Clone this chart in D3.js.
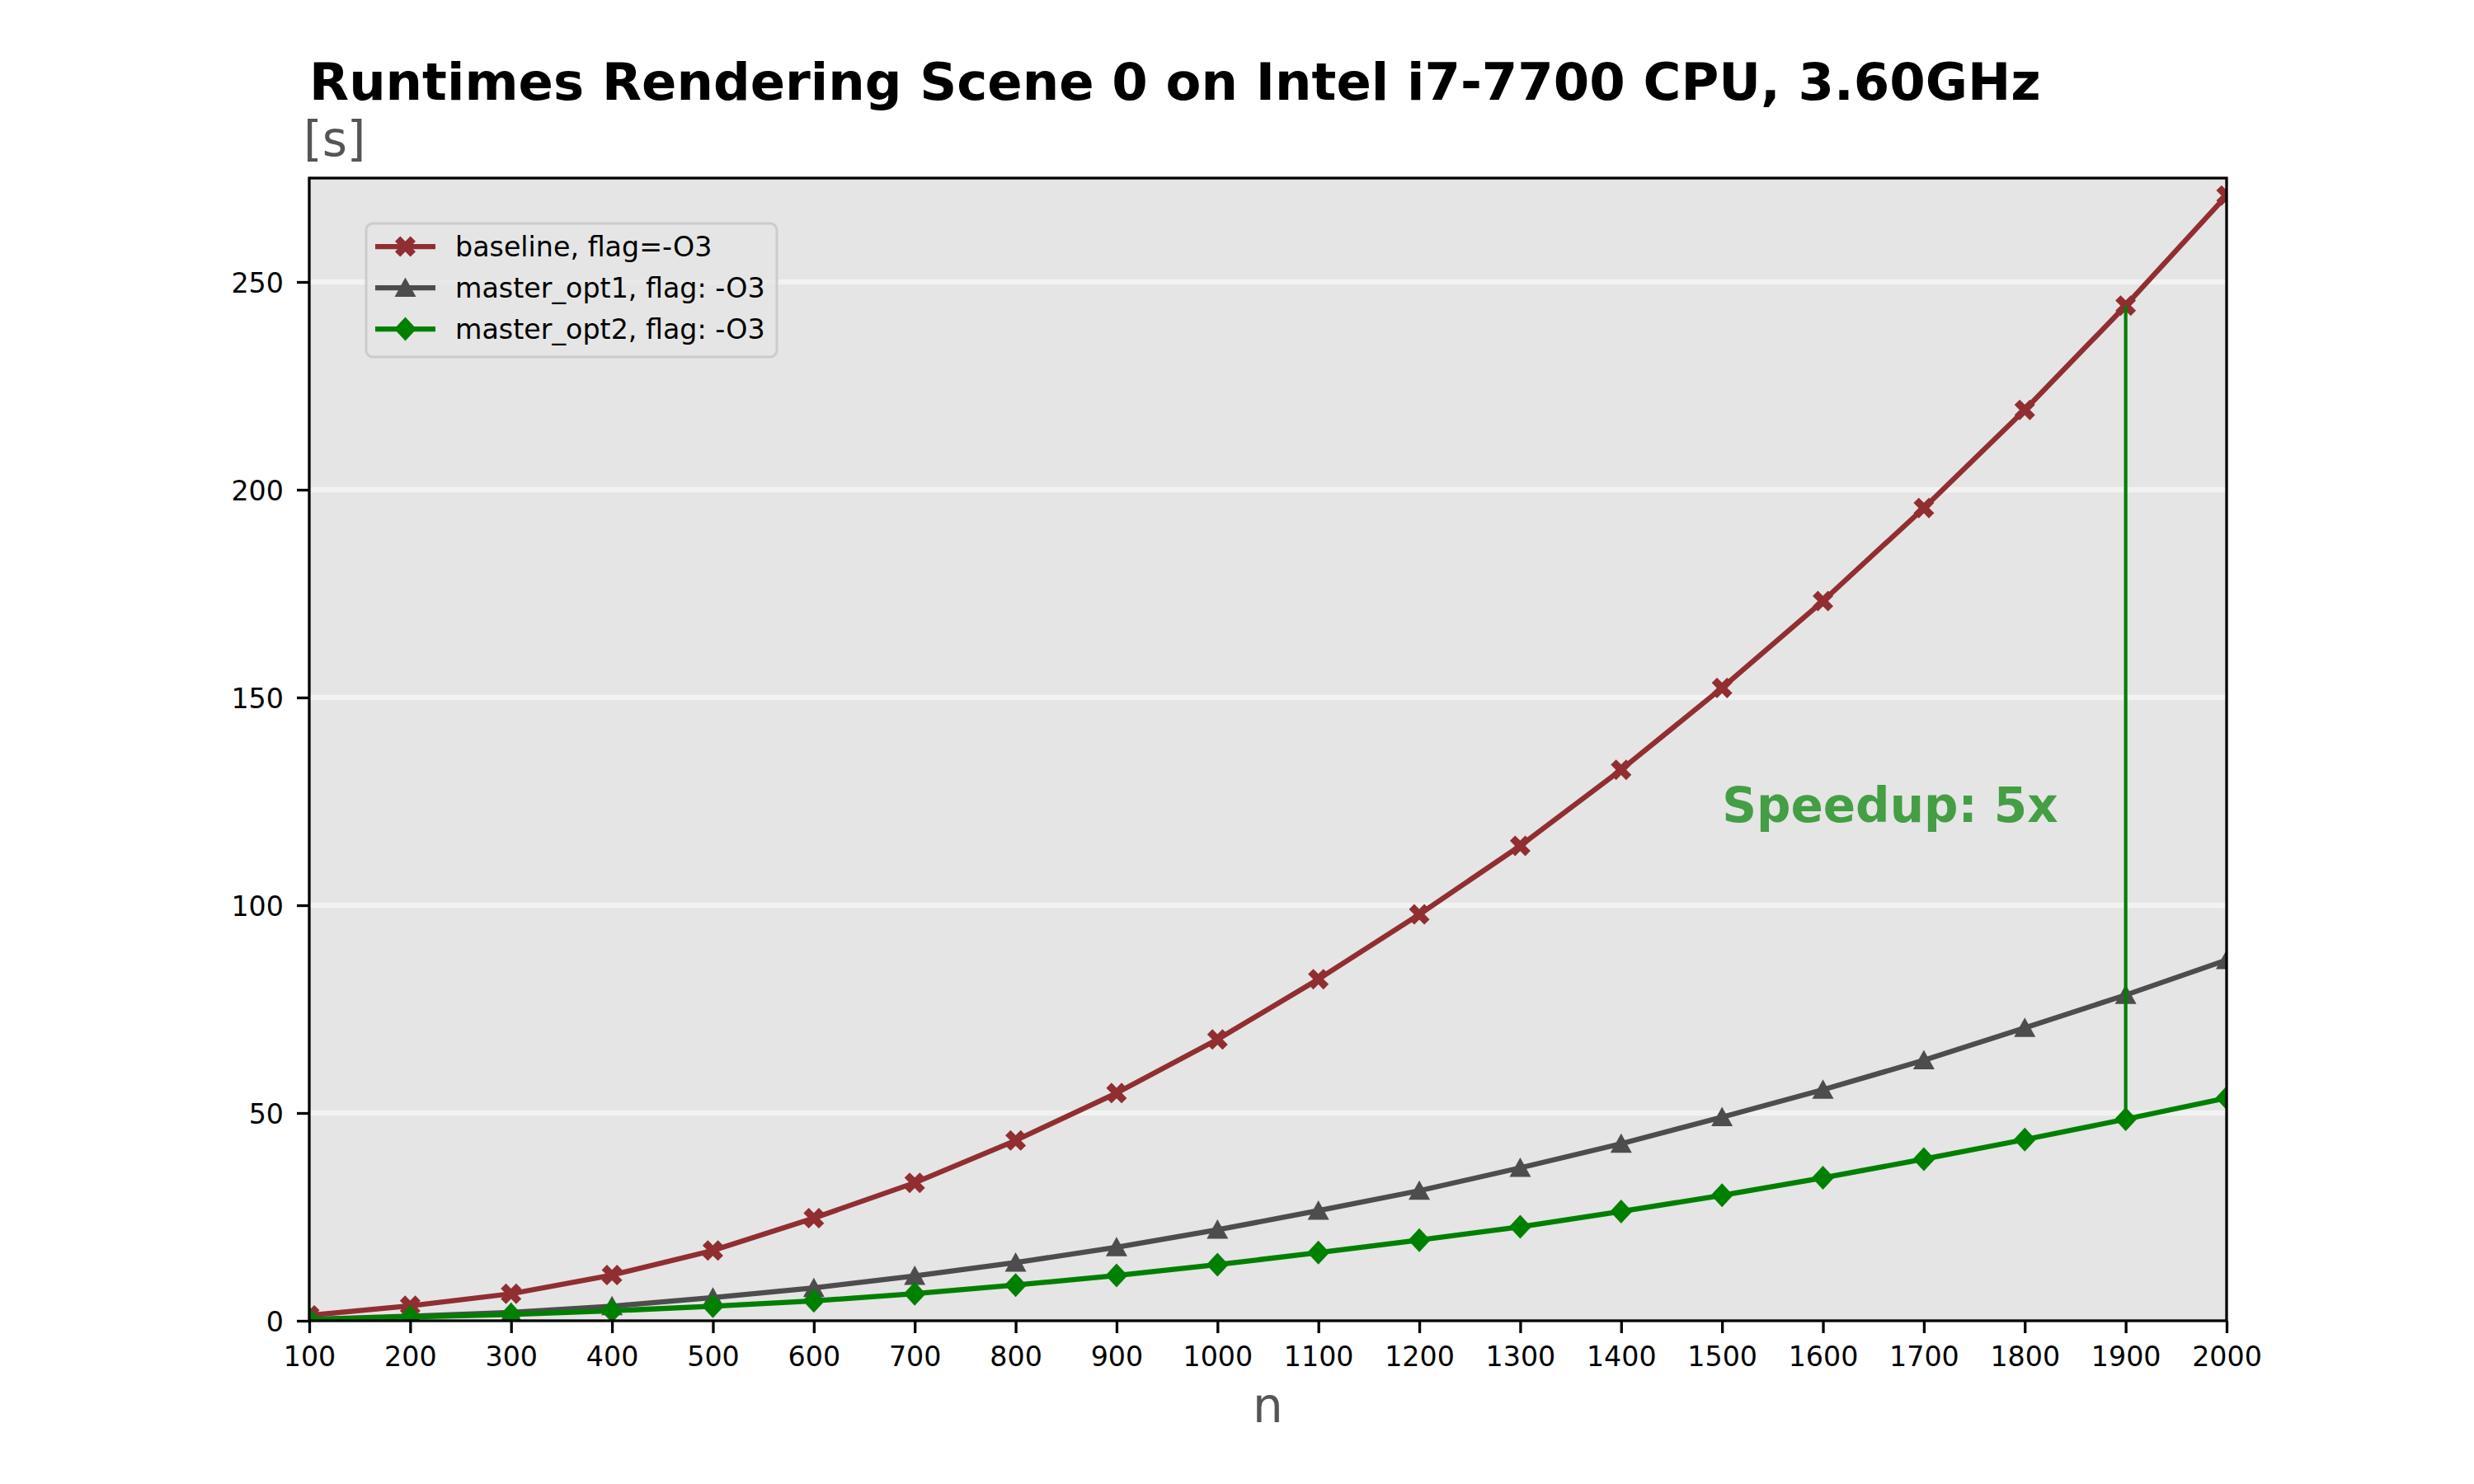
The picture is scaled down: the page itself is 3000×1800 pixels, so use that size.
<!DOCTYPE html>
<html>
<head>
<meta charset="utf-8">
<script src="https://cdn.jsdelivr.net/npm/d3@7"></script>
<style>
  html, body { margin: 0; padding: 0; background: #ffffff; }
  svg { display: block; font-family: "DejaVu Sans", sans-serif; }
</style>
</head>
<body>
<svg id="chart" width="3000" height="1800"></svg>
<script>
// ---- data ----
const nValues = [100, 200, 300, 400, 500, 600, 700, 800, 900, 1000, 1100, 1200, 1300, 1400, 1500, 1600, 1700, 1800, 1900, 2000];
const baseline = [1.3, 3.6, 6.5, 11.0, 16.9, 24.7, 33.2, 43.4, 54.8, 67.7, 82.2, 97.8, 114.3, 132.6, 152.3, 173.2, 195.6, 219.2, 244.3, 270.8];
const masterOpt1 = [0.3, 1.1, 2.0, 3.5, 5.6, 7.9, 10.8, 14.0, 17.7, 21.9, 26.5, 31.3, 36.8, 42.6, 49.0, 55.6, 62.7, 70.5, 78.4, 86.8];
const masterOpt2 = [0.3, 0.9, 1.5, 2.4, 3.5, 4.8, 6.5, 8.6, 10.9, 13.5, 16.4, 19.4, 22.6, 26.3, 30.2, 34.4, 38.9, 43.6, 48.5, 53.6];
const seriesNames = ["baseline, flag=-O3", "master_opt1, flag: -O3", "master_opt2, flag: -O3"];
const yTicks = [0, 50, 100, 150, 200, 250];
const xTicks = nValues;
const titleText = "Runtimes Rendering Scene 0 on Intel i7-7700 CPU, 3.60GHz";
const yLabel = "[s]";
const xLabel = "n";
const speedupText = "Speedup: 5x";
const speedupAt = { n: 1500, v: 120 };
const speedupIndex = 18; // n = 1900

// ---- layout ----
const plotLeft = 375, plotRight = 2700, plotTop = 216, plotBottom = 1602;

const svg = d3.select("#chart");
const x = d3.scaleLinear().domain([100, 2000]).range([plotLeft, plotRight]);
const y = d3.scaleLinear().domain([0, 275]).range([plotBottom, plotTop]);

// background
svg.append("rect").attr("x", plotLeft).attr("y", plotTop)
  .attr("width", plotRight - plotLeft).attr("height", plotBottom - plotTop)
  .attr("fill", "#e5e5e5");

// grid
svg.append("g").selectAll("line").data(yTicks.filter(d => d > 0)).join("line")
  .attr("x1", plotLeft).attr("x2", plotRight)
  .attr("y1", d => y(d)).attr("y2", d => y(d))
  .attr("stroke", "#f2f2f2").attr("stroke-width", 6.5);

// clip
svg.append("defs").append("clipPath").attr("id", "plotclip")
  .append("rect").attr("x", plotLeft).attr("y", plotTop)
  .attr("width", plotRight - plotLeft).attr("height", plotBottom - plotTop);

const plot = svg.append("g").attr("clip-path", "url(#plotclip)");

const series = [
  { name: seriesNames[0], values: baseline, color: "#912e32", marker: "X" },
  { name: seriesNames[1], values: masterOpt1, color: "#4d4d4d", marker: "^" },
  { name: seriesNames[2], values: masterOpt2, color: "#008000", marker: "D" }
];

function markerPath(type) {
  if (type === "X") {
    const s = 12.5, w = 9;
    const a = w / Math.SQRT2;
    const pts = [
      [0, -a], [s - a, -s], [s, -s + a], [a, 0], [s, s - a], [s - a, s],
      [0, a], [-s + a, s], [-s, s - a], [-a, 0], [-s, -s + a], [-s + a, -s]
    ];
    return "M" + pts.map(p => p.join(",")).join("L") + "Z";
  } else if (type === "^") {
    return "M0,-12.5L13,11L-13,11Z";
  } else {
    return "M0,-14.5L13.5,0L0,14.5L-13.5,0Z";
  }
}

const line = d3.line().x((d, i) => x(nValues[i])).y(d => y(d));

series.forEach(s => {
  const g = plot.append("g");
  g.append("path").datum(s.values)
    .attr("d", line)
    .attr("fill", "none")
    .attr("stroke", s.color)
    .attr("stroke-width", 6.25)
    .attr("stroke-linejoin", "round");
  g.selectAll("path.m").data(s.values).join("path")
    .attr("class", "m")
    .attr("d", markerPath(s.marker))
    .attr("transform", (d, i) => `translate(${x(nValues[i])},${y(d)})`)
    .attr("fill", s.color);
});

// speedup vertical line
plot.append("line")
  .attr("x1", x(nValues[speedupIndex])).attr("x2", x(nValues[speedupIndex]))
  .attr("y1", y(baseline[speedupIndex])).attr("y2", y(masterOpt2[speedupIndex]))
  .attr("stroke", "#008000").attr("stroke-width", 4.2);

// speedup text
svg.append("text")
  .attr("x", x(speedupAt.n)).attr("y", y(speedupAt.v))
  .attr("font-size", 58).attr("font-weight", "bold")
  .attr("fill", "#008000").attr("fill-opacity", 0.7)
  .text(speedupText);

// axes
const xAxis = d3.axisBottom(x).tickValues(xTicks).tickFormat(d3.format("d")).tickSize(15).tickSizeOuter(0);
const yAxis = d3.axisLeft(y).tickValues(yTicks).tickFormat(d3.format("d")).tickSize(15).tickSizeOuter(0);

const gx = svg.append("g").attr("transform", `translate(0,${plotBottom})`).call(xAxis);
gx.select(".domain").remove();
gx.selectAll(".tick line").attr("stroke", "#000").attr("stroke-width", 3.3);
gx.selectAll(".tick text").attr("y", 55).attr("dy", null)
  .attr("font-size", 33.3).attr("font-family", "DejaVu Sans").attr("fill", "#000");

const gy = svg.append("g").attr("transform", `translate(${plotLeft},0)`).call(yAxis);
gy.select(".domain").remove();
gy.selectAll(".tick line").attr("stroke", "#000").attr("stroke-width", 3.3);
gy.selectAll(".tick text").attr("x", -31).attr("dy", "0.36em")
  .attr("font-size", 33.3).attr("font-family", "DejaVu Sans").attr("fill", "#000");

// spines
svg.append("rect").attr("x", plotLeft).attr("y", plotTop)
  .attr("width", plotRight - plotLeft).attr("height", plotBottom - plotTop)
  .attr("fill", "none").attr("stroke", "#000").attr("stroke-width", 3.3);

// legend
const lg = svg.append("g");
lg.append("rect").attr("x", 444).attr("y", 271).attr("width", 498).attr("height", 162)
  .attr("rx", 8).attr("ry", 8)
  .attr("fill", "#e5e5e5").attr("fill-opacity", 0.8)
  .attr("stroke", "#cccccc").attr("stroke-width", 3);
series.forEach((s, i) => {
  const cy = 299 + i * 50;
  lg.append("line").attr("x1", 455).attr("x2", 528).attr("y1", cy).attr("y2", cy)
    .attr("stroke", s.color).attr("stroke-width", 6.25);
  lg.append("path").attr("d", markerPath(s.marker))
    .attr("transform", `translate(491.5,${cy})`).attr("fill", s.color);
  lg.append("text").attr("x", 552).attr("y", cy).attr("dy", "0.36em")
    .attr("font-size", 33.3).attr("fill", "#000").text(s.name);
});

// title & labels
svg.append("text").attr("x", 375).attr("y", 121)
  .attr("font-size", 62.5).attr("font-weight", "bold").attr("fill", "#000")
  .text(titleText);
svg.append("text").attr("x", 368).attr("y", 189)
  .attr("font-size", 58).attr("fill", "#555555").text(yLabel);
svg.append("text").attr("x", (plotLeft + plotRight) / 2).attr("y", 1725)
  .attr("text-anchor", "middle")
  .attr("font-size", 58).attr("fill", "#555555").text(xLabel);
</script>
</body>
</html>
